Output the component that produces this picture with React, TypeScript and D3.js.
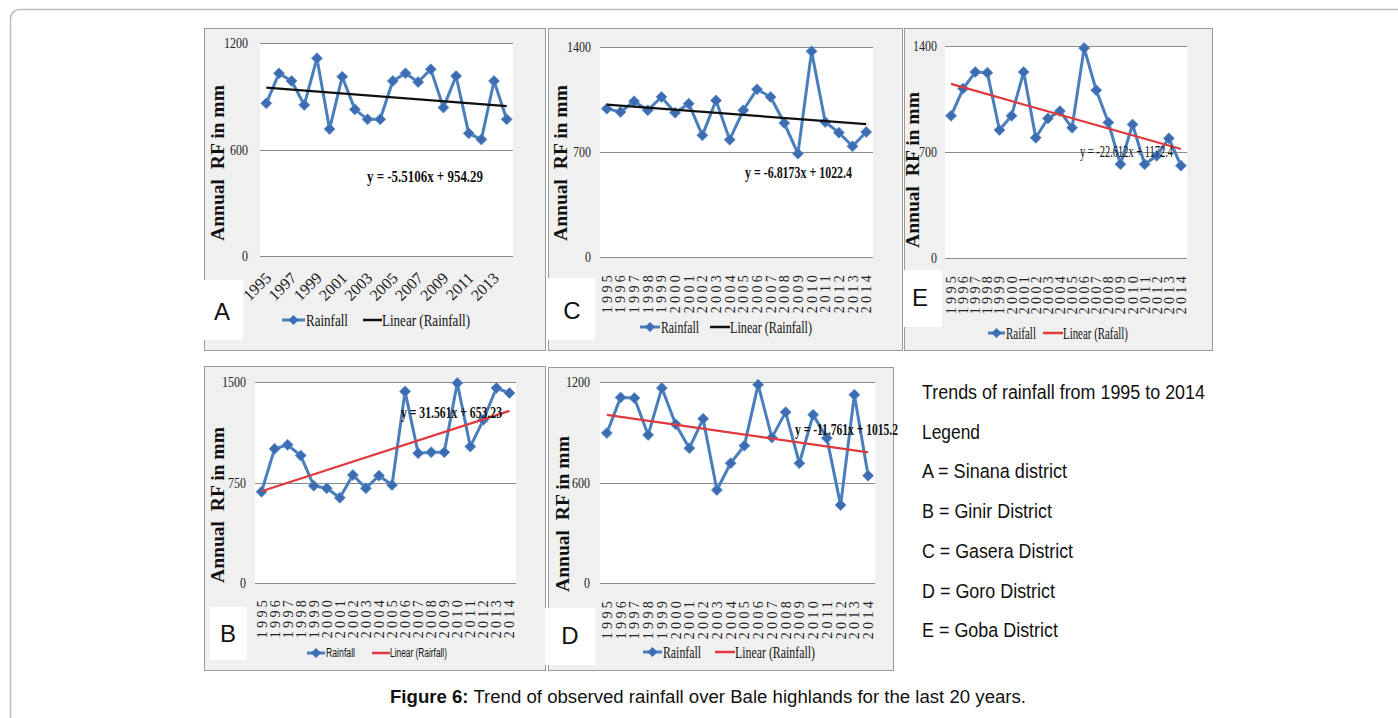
import React from 'react'
import * as d3 from 'd3'

// rainfall per district, 1995-2014 (mm)
const years = ['1995', '1996', '1997', '1998', '1999', '2000', '2001', '2002', '2003', '2004',
  '2005', '2006', '2007', '2008', '2009', '2010', '2011', '2012', '2013', '2014']
const sinana = [860, 1029, 986, 851, 1114, 715, 1010, 826, 770, 770, 986, 1029, 980, 1052, 836, 1014, 691, 657, 986, 770]
const gasera = [989, 967, 1038, 978, 1067, 962, 1022, 811, 1044, 782, 978, 1118, 1067, 893, 689, 1371, 900, 829, 738, 833]
const goba = [939, 1119, 1228, 1224, 845, 939, 1228, 794, 921, 970, 860, 1386, 1108, 895, 619, 882, 619, 675, 790, 610]
const ginir = [681, 1001, 1031, 951, 726, 707, 636, 806, 707, 801, 731, 1430, 969, 976, 976, 1492, 1018, 1218, 1455, 1418]
const goro = [895, 1108, 1104, 884, 1164, 948, 805, 980, 555, 715, 820, 1184, 868, 1020, 715, 1004, 865, 465, 1124, 641]

// panel order: A, C, E, B, D
const panelLetters = ['A', 'C', 'E', 'B', 'D']
const panelSeries = [sinana, gasera, goba, ginir, goro]
const yMaxes = [1200, 1400, 1400, 1500, 1200]
const trendSlopes = [-5.5106, -6.8173, -22.612, 31.561, -11.761]
const trendIntercepts = [954.29, 1022.4, 1172.4, 653.23, 1015.2]
const equations = ['y = -5.5106x + 954.29', 'y = -6.8173x + 1022.4', 'y = -22.612x + 1172.4', 'y = 31.561x + 653.23', 'y = -11.761x + 1015.2']
const seriesNames = ['Rainfall', 'Rainfall', 'Raifall', 'Rainfall', 'Rainfall']
const trendNames = ['Linear (Rainfall)', 'Linear (Rainfall)', 'Linear (Rafall)', 'Linear (Rairfall)', 'Linear (Rainfall)']

const legendLines = ['Trends of rainfall from 1995 to 2014', 'Legend', 'A = Sinana district', 'B = Ginir District',
  'C = Gasera District', 'D = Goro District', 'E = Goba District']

const SERIF = "'Liberation Serif', 'Times New Roman', serif"
const SANS = "'Liberation Sans', Arial, sans-serif"
const NARROW = "'Liberation Sans Narrow', 'Liberation Sans', Arial, sans-serif"
const BLUE = '#4a7ebb'
const RED = '#e0393e'

// layout of each panel on the page
const layouts = [
  { box: [204, 28, 545, 350], plot: [260, 43, 513, 256], tickX: 248, labX: 217, labY: 163, diag: true, labTop: 279,
    eq: [367, 182, 116, true], letterBox: [203, 280, 243, 340], letter: [222, 320], trend: '#111',
    leg: { y: 320, m0: 282, m1: 305, t1w: 42, l0: 363, l1: 382, t2w: 88, font: SERIF, size: 16 } },
  { box: [548, 28, 902, 350], plot: [600, 47, 873, 257], tickX: 591, labX: 560, labY: 163, diag: false, labTop: 272,
    eq: [745, 178, 107, true], letterBox: [547, 278, 595, 340], letter: [572, 319], trend: '#111',
    leg: { y: 327, m0: 640, m1: 660, t1w: 38, l0: 710, l1: 730, t2w: 82, font: SERIF, size: 16 } },
  { box: [904, 28, 1212, 350], plot: [945, 46, 1187, 258], tickX: 937, labX: 912, labY: 170, diag: false, labTop: 273,
    eq: [1080, 157, 93, false], letterBox: [903, 270, 942, 327], letter: [920, 306], trend: RED,
    leg: { y: 333, m0: 988, m1: 1005, t1w: 30, l0: 1043, l1: 1063, t2w: 65, font: SERIF, size: 16 } },
  { box: [204, 366, 545, 670], plot: [255, 382, 516, 583], tickX: 246, labX: 217, labY: 505, diag: false, labTop: 597,
    eq: [401, 418, 101, true], letterBox: [210, 607, 247, 660], letter: [228, 642], trend: RED,
    leg: { y: 653, m0: 307, m1: 325, t1w: 29, l0: 372, l1: 390, t2w: 57, font: SANS, size: 12 } },
  { box: [548, 367, 893, 670], plot: [600, 382, 875, 583], tickX: 590, labX: 562, labY: 514, diag: false, labTop: 598,
    eq: [795, 435, 103, true], letterBox: [545, 608, 595, 665], letter: [570, 644], trend: RED,
    leg: { y: 652, m0: 643, m1: 662, t1w: 38, l0: 715, l1: 735, t2w: 80, font: SERIF, size: 16 } }
]

const legendWidths = [283, 58, 145, 130, 151, 133, 136]

const diamond = (r: number) => `M0,${-r}L${r},0L0,${r}L${-r},0Z`

function Panel ({ i }: { i: number }) {
  const L = layouts[i]
  const values = panelSeries[i]
  const [px0, py0, px1, py1] = L.plot
  const x = d3.scalePoint<string>().domain(years).range([px0, px1]).padding(0.5)
  const y = d3.scaleLinear().domain([0, yMaxes[i]]).range([py1, py0])
  const ticks = [0, yMaxes[i] / 2, yMaxes[i]]
  const line = d3.line<number>().x((d, k) => x(years[k])!).y(d => y(d))
  const trendY = (t: number) => y(trendSlopes[i] * t + trendIntercepts[i])
  const [bx0, by0, bx1, by1] = L.box
  const [lx0, ly0, lx1, ly1] = L.letterBox
  const leg = L.leg

  return (
    <g>
      <rect x={bx0 + 1} y={by0 + 1} width={bx1 - bx0} height={by1 - by0} fill='#c8c8c8' />
      <rect x={bx0 + 0.5} y={by0 + 0.5} width={bx1 - bx0} height={by1 - by0} fill='#f0f0f0' stroke='#9a9a9a' />
      <rect x={px0} y={py0} width={px1 - px0} height={py1 - py0} fill='#fff' />
      {ticks.map(t => (
        <g key={t}>
          <line x1={px0} x2={px1} y1={Math.round(y(t)) + 0.5} y2={Math.round(y(t)) + 0.5} stroke='#8a8a8a' />
          <text x={L.tickX} y={y(t)} dy='0.35em' textAnchor='end' fontFamily={SERIF} fontSize={15}
            textLength={String(t).length * 6} lengthAdjust='spacingAndGlyphs' fill='#222'>{t}</text>
        </g>
      ))}
      <text transform={`translate(${L.labX},${L.labY}) rotate(-90)`} dy='0.35em' textAnchor='middle'
        fontFamily={SERIF} fontSize={19} fontWeight='bold' fill='#111' style={{ whiteSpace: 'pre' }}
        textLength={156} lengthAdjust='spacingAndGlyphs'>
        {'Annual  RF in mm'}
      </text>
      {years.map((yr, k) => {
        if (L.diag) {
          if (k % 2 === 1) return null
          return (
            <text key={yr} transform={`translate(${x(yr)! + 6},${L.labTop}) rotate(-45)`} textAnchor='end'
              fontFamily={SERIF} fontSize={16} fill='#222'>{yr}</text>
          )
        }
        return (
          <text key={yr} transform={`translate(${x(yr)! + 5},${L.labTop}) rotate(-90)`} textAnchor='end'
            fontFamily={SERIF} fontSize={14} letterSpacing={3.3} fill='#222'>{yr}</text>
        )
      })}
      <rect x={lx0} y={ly0} width={lx1 - lx0} height={ly1 - ly0} fill='#fff' />
      <text x={L.letter[0]} y={L.letter[1]} textAnchor='middle' fontFamily={SANS} fontSize={24} fill='#111'>{panelLetters[i]}</text>
      <path d={line(values)!} fill='none' stroke={BLUE} strokeWidth={3} strokeLinejoin='round' />
      {values.map((v, k) => (
        <path key={k} d={diamond(5.5)} transform={`translate(${x(years[k])},${y(v)})`} fill='#3d6db0' stroke='#5b8fd0' strokeWidth={0.8} />
      ))}
      <line x1={x(years[0])} x2={x(years[years.length - 1])} y1={trendY(1)} y2={trendY(years.length)}
        stroke={L.trend} strokeWidth={2.2} />
      <text x={L.eq[0]} y={L.eq[1]} fontFamily={SERIF} fontSize={16} fontWeight={L.eq[3] ? 'bold' : 'normal'}
        textLength={L.eq[2] as number} lengthAdjust='spacingAndGlyphs' fill='#111'>{equations[i]}</text>
      <line x1={leg.m0} x2={leg.m1} y1={leg.y} y2={leg.y} stroke={BLUE} strokeWidth={3} />
      <path d={diamond(5)} transform={`translate(${(leg.m0 + leg.m1) / 2},${leg.y})`} fill='#3d6db0' />
      <text x={leg.m1 + 1} y={leg.y} dy='0.35em' fontFamily={leg.font} fontSize={leg.size}
        textLength={leg.t1w} lengthAdjust='spacingAndGlyphs' fill='#111'>{seriesNames[i]}</text>
      <line x1={leg.l0} x2={leg.l1} y1={leg.y} y2={leg.y} stroke={L.trend} strokeWidth={2.5} />
      <text x={leg.l1} y={leg.y} dy='0.35em' fontFamily={leg.font} fontSize={leg.size}
        textLength={leg.t2w} lengthAdjust='spacingAndGlyphs' fill='#111'>{trendNames[i]}</text>
    </g>
  )
}

export default function App () {
  return (
    <svg width={1398} height={718} style={{ position: 'absolute', left: 0, top: 0 }}>
      <rect width={1398} height={718} fill='#fff' />
      <rect x={10.5} y={9.5} width={1420} height={740} rx={9} fill='none' stroke='#bdbdbd' strokeWidth={1.5} />
      {layouts.map((_, i) => <Panel key={i} i={i} />)}
      {legendLines.map((t, k) => (
        <text key={t} x={922} y={399 + k * 39.7} fontFamily={NARROW} fontSize={20.5}
          textLength={legendWidths[k]} lengthAdjust='spacingAndGlyphs' fill='#111'>{t}</text>
      ))}
      <text x={390} y={703} fontFamily={SANS} fontSize={17.5} fill='#111' textLength={636} lengthAdjust='spacingAndGlyphs'>
        <tspan fontWeight='bold'>Figure 6:</tspan> Trend of observed rainfall over Bale highlands for the last 20 years.
      </text>
    </svg>
  )
}
